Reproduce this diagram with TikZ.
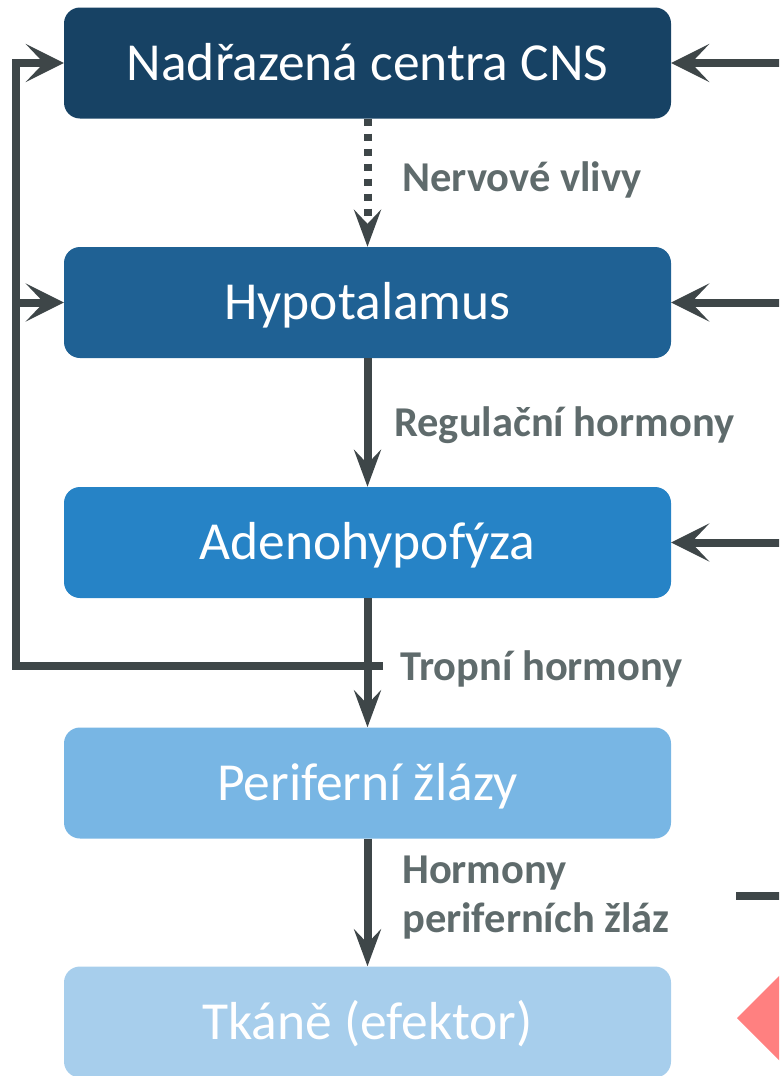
\documentclass[tikz,border=0pt]{standalone}
\usepackage{fontspec}
\setmainfont{Carlito}
\usetikzlibrary{arrows.meta}

\tikzstyle{level-box}=[rectangle, rounded corners=16pt, minimum width=607pt, minimum height=111pt, inner sep=0pt, text=white, text height=34pt, text depth=0pt, font=\fontsize{53.5}{60}\selectfont]
\tikzstyle{flow-label}=[anchor=base west, inner sep=0pt, text=LabelGray, font=\bfseries\fontsize{42.5}{49}\selectfont]
\tikzstyle{flow-down}=[draw=ArrowGray, line width=8pt, -{Stealth[length=37pt, width=27pt, inset=14pt]}]
\tikzstyle{flow-side}=[draw=ArrowGray, line width=8pt, -{Stealth[length=38pt, width=38pt, inset=18pt]}]
\definecolor{LevelCNS}{HTML}{174264}
\definecolor{LevelHypo}{HTML}{1F6194}
\definecolor{LevelAdeno}{HTML}{2683C6}
\definecolor{LevelGland}{HTML}{78B6E4}
\definecolor{LevelTissue}{HTML}{A7CEEC}
\definecolor{LabelGray}{HTML}{5F6B6C}
\definecolor{ArrowGray}{HTML}{3E4648}
\definecolor{MarkRed}{HTML}{FF8080}

\begin{document}
\begin{tikzpicture}[x=1pt, y=-1pt]
      \useasboundingbox (0,0) rectangle (779,1076);
      \clip (0,0) rectangle (779,1076);

      \node (level-cns) at (367.5,63) [level-box, fill={LevelCNS}] {Nadřazená centra CNS};
      \node (level-hypo) at (367.5,302.5) [level-box, fill={LevelHypo}] {Hypotalamus};
      \node (level-adeno) at (367.5,542.5) [level-box, fill={LevelAdeno}] {Adenohypofýza};
      \node (level-gland) at (367.5,783) [level-box, fill={LevelGland}] {Periferní žlázy};
      \node (level-tissue) at (367.5,1022) [level-box, fill={LevelTissue}] {Tkáně (efektor)};

      \node (label-nerve) at (402,191) [flow-label] {Nervové vlivy};
      \node (label-regul) at (394,436) [flow-label] {Regulační hormony};
      \node (label-tropic) at (400,680) [flow-label] {Tropní hormony};
      \node (label-perif) at (402,883) [flow-label] {Hormony};
      \node (label-perif2) at (402,932) [flow-label] {periferních žláz};

      \draw[flow-down, dash pattern=on 7pt off 8pt] (level-cns.south) -- (level-hypo.north);
      \draw[flow-down] (level-hypo.south) -- (level-adeno.north);
      \draw[flow-down] (level-adeno.south) -- (level-gland.north);
      \draw[flow-down] (level-gland.south) -- (level-tissue.north);

      % feedback loop on the left
      \coordinate (fb-start) at (383,666);
      \coordinate (fb-corner) at (16,666);
      \draw[flow-side] (fb-start) -- (fb-corner) |- (level-cns.west);
      \draw[flow-side] (fb-corner |- level-hypo.west) -- (level-hypo.west);

      % inputs from the right
      \coordinate (in-cns) at (790,63);
      \coordinate (in-hypo) at (790,302.5);
      \coordinate (in-adeno) at (790,542.5);
      \draw[flow-side] (in-cns) -- (level-cns.east);
      \draw[flow-side] (in-hypo) -- (level-hypo.east);
      \draw[flow-side] (in-adeno) -- (level-adeno.east);

      \coordinate (out-start) at (736,896);
      \coordinate (out-end) at (790,896);
      \draw[draw=ArrowGray, line width=8pt] (out-start) -- (out-end);
      \fill[MarkRed] (737,1018) -- (780,975) -- (823,1018) -- (780,1061) -- cycle;
    \end{tikzpicture}
\end{document}
